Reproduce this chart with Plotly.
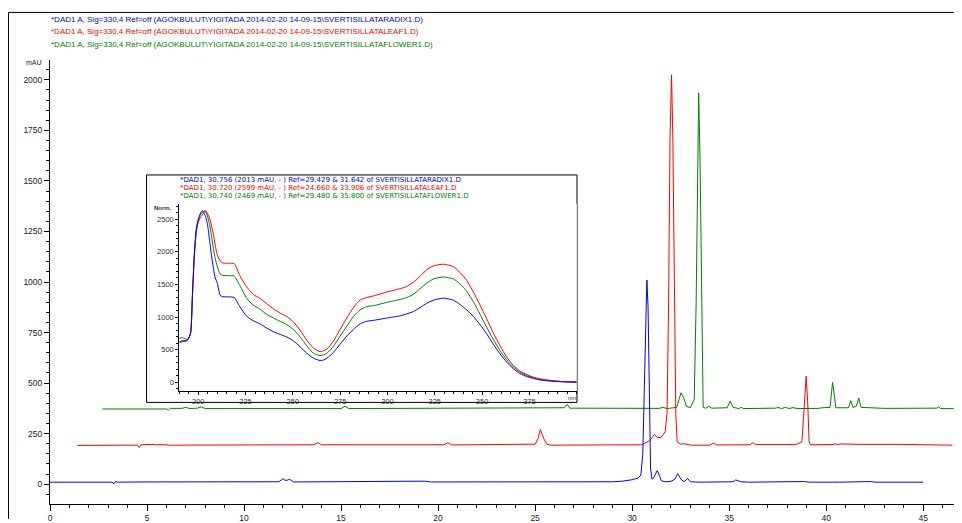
import plotly.graph_objects as go

# ---------------- chromatogram data (time in min, signal in mAU) ----------------
blue_t = [0, 3.2, 3.3, 3.36, 3.5, 4.2, 4.4, 4.6, 11.8, 12.0, 12.15, 12.35, 12.55, 19.0, 19.3, 19.6, 24.0, 24.4, 29.0, 29.5,
          30.0, 30.3, 30.45, 30.55, 30.63, 30.7, 30.76, 30.82, 30.88, 30.95, 31.02, 31.1, 31.2, 31.29, 31.4, 31.5, 31.7,
          32.0, 32.2, 32.35, 32.55, 32.7, 32.85, 33.0, 33.5, 35.2, 35.34, 35.6, 36.0, 37.6, 37.8, 38.9, 39.1, 40.5, 40.7,
          42.3, 42.5, 45.0]
blue_mau = [10, 10, 2, 13, 10, 12, 10, 11, 12, 27, 18, 24, 11, 12, 15, 11, 11, 13, 12, 15,
            22, 30, 45, 150, 550, 900, 1010, 880, 400, 80, 25, 30, 50, 67, 45, 17, 12,
            14, 25, 52, 20, 13, 29, 12, 10, 12, 21, 12, 10, 13, 10, 13, 10, 13, 10,
            13, 10, 10]

red_t = [1.4, 4.5, 4.6, 4.7, 5.3, 5.5, 5.7, 6.2, 13.6, 13.8, 14.0, 20.3, 20.5, 20.7, 25.0, 25.15, 25.27, 25.45, 25.6,
         25.8, 30.5, 30.9, 31.15, 31.3, 31.5, 31.7, 31.8, 31.88, 31.95, 32.03, 32.1, 32.18, 32.25, 32.32, 32.5, 32.7,
         33.0, 34.0, 34.2, 34.35, 36.1, 36.2, 36.35, 38.3, 38.5, 38.75, 38.85, 38.97, 39.05, 39.12, 39.2, 40.4, 40.45,
         40.6, 40.75, 41.8, 43.8, 44.6, 46.5]
red_mau = [192, 193, 181, 195, 197, 194, 196, 193, 195, 205, 195, 195, 205, 194, 198, 225, 270, 225, 198,
           193, 195, 215, 246, 230, 232, 260, 350, 900, 1700, 2025, 1700, 900, 350, 210, 198, 200,
           193, 193, 203, 194, 195, 206, 196, 196, 198, 210, 350, 534, 400, 210, 195, 196, 200,
           196, 199, 197, 197, 195, 193]

green_t = [2.7, 6.0, 6.1, 6.2, 6.8, 7.0, 7.2, 7.6, 7.8, 8.0, 15.0, 15.2, 15.4, 26.5, 26.65, 26.8, 31.4, 31.6, 31.8,
           32.3, 32.42, 32.52, 32.65, 32.8, 33.0, 33.2, 33.3, 33.37, 33.43, 33.5, 33.58, 33.66, 33.8, 33.95, 34.1,
           34.9, 35.05, 35.2, 35.5, 35.6, 35.75, 37.4, 37.5, 37.7, 37.9, 38.1, 38.3, 38.5, 39.6, 39.8, 40.2, 40.27,
           40.33, 40.42, 40.5, 41.15, 41.27, 41.38, 41.55, 41.68, 41.8, 43.0, 45.7, 45.8, 45.9, 47.0]
green_mau = [372, 372, 366, 375, 375, 380, 374, 376, 382, 374, 374, 385, 374, 378, 395, 376, 375, 380, 374,
             380, 420, 452, 430, 385, 378, 420, 900, 1600, 1935, 1600, 800, 380, 376, 385, 376,
             378, 411, 380, 374, 380, 374, 376, 380, 374, 380, 374, 379, 374, 375, 378, 380, 470,
             503, 440, 378, 378, 413, 380, 385, 426, 380, 375, 376, 382, 374, 373]

# ---------------- UV spectra (inset) ----------------
blue_nm = [190, 192, 194, 195, 196, 197, 198, 199, 200, 201, 202, 203, 204, 205, 206, 207, 208, 209, 210, 211.6, 213,
           216, 219, 222, 225.7, 229, 232.7, 236, 239.8, 243.3, 246.8, 250.3, 253.9, 257.4, 260.9, 264.4, 266, 268,
           271.5, 275, 278.5, 282, 285.5, 289, 292.6, 299.6, 306.7, 310.2, 313.7, 317.2, 320.7, 324.3, 329.5, 334.8,
           338.3, 341.9, 345.4, 348.9, 352.4, 355.9, 359.5, 363, 366.5, 370, 373.5, 377.1, 380.6, 387.6, 395, 400]
blue_norm = [620, 640, 635, 680, 760, 1400, 2000, 2350, 2480, 2580, 2630, 2600, 2530, 2400, 2180, 1950, 1750, 1600,
             1530, 1335, 1312, 1310, 1300, 1160, 1010, 945, 895, 835, 775, 735, 695, 635, 545, 445, 370, 335, 340,
             370, 460, 585, 710, 810, 895, 935, 950, 985, 1020, 1050, 1085, 1145, 1210, 1260, 1290, 1260, 1195,
             1110, 1010, 885, 745, 585, 435, 310, 210, 135, 90, 60, 35, 15, 5, 2]

red_nm = [190, 192, 194, 195, 196, 197, 198, 199, 200, 201, 202, 203, 204, 205, 206, 207, 208, 209, 210, 211.6, 213,
          216, 219, 222, 225.7, 229, 232.7, 236, 239.8, 243.3, 246.8, 250.3, 253.9, 257.4, 260.9, 264.4, 268, 271.5,
          275, 278.5, 282, 285.5, 289, 292.6, 299.6, 306.7, 310.2, 313.7, 317.2, 320.7, 324.3, 329.5, 334.8, 338.3,
          341.9, 345.4, 348.9, 352.4, 355.9, 359.5, 363, 366.5, 370, 373.5, 377.1, 380.6, 387.6, 395, 400]
red_norm = [610, 625, 640, 680, 760, 1350, 1950, 2300, 2450, 2520, 2560, 2600, 2630, 2580, 2520, 2400, 2270, 2100,
            1960, 1860, 1830, 1825, 1820, 1635, 1460, 1350, 1285, 1210, 1125, 1060, 1010, 925, 795, 645, 525, 470,
            510, 635, 810, 985, 1145, 1260, 1300, 1325, 1385, 1435, 1470, 1535, 1625, 1725, 1785, 1810, 1775, 1685,
            1560, 1385, 1185, 975, 760, 560, 385, 260, 175, 120, 80, 55, 25, 10, 5]

green_nm = [190, 191.5, 193, 194, 195, 196, 197, 198, 199, 200, 201, 202, 203.3, 204.5, 206, 207, 208, 209, 210, 211.6,
            213, 216, 219, 222, 225.7, 229, 232.7, 236, 239.8, 243.3, 246.8, 250.3, 253.9, 257.4, 260.9, 264.4, 268,
            271.5, 275, 278.5, 282, 285.5, 289, 292.6, 299.6, 306.7, 310.2, 313.7, 317.2, 320.7, 324.3, 329.5, 334.8,
            338.3, 341.9, 345.4, 348.9, 352.4, 355.9, 359.5, 363, 366.5, 370, 373.5, 377.1, 380.6, 387.6, 395, 400]
green_norm = [670, 685, 670, 655, 680, 760, 1380, 1980, 2350, 2500, 2560, 2600, 2630, 2580, 2420, 2250, 2050, 1900,
              1780, 1660, 1640, 1635, 1630, 1485, 1285, 1185, 1120, 1045, 985, 935, 885, 810, 695, 560, 445, 410,
              445, 555, 710, 860, 1010, 1110, 1160, 1175, 1225, 1270, 1300, 1350, 1435, 1520, 1585, 1615, 1585, 1510,
              1395, 1235, 1045, 845, 660, 485, 345, 235, 155, 105, 70, 45, 20, 8, 5]

main_labels = [
    "*DAD1 A, Sig=330,4 Ref=off (AGOKBULUT\\YIGITADA 2014-02-20 14-09-15\\SVERTISILLATARADIX1.D)",
    "*DAD1 A, Sig=330,4 Ref=off (AGOKBULUT\\YIGITADA 2014-02-20 14-09-15\\SVERTISILLATALEAF1.D)",
    "*DAD1 A, Sig=330,4 Ref=off (AGOKBULUT\\YIGITADA 2014-02-20 14-09-15\\SVERTISILLATAFLOWER1.D)",
]
inset_labels = [
    "*DAD1, 30.756 (2013 mAU, - ) Ref=29.429 & 31.642 of SVERTISILLATARADIX1.D",
    "*DAD1, 30.720 (2599 mAU, - ) Ref=24.660 & 33.906 of SVERTISILLATALEAF1.D",
    "*DAD1, 30.740 (2469 mAU, - ) Ref=29.480 & 35.800 of SVERTISILLATAFLOWER1.D",
]
colors = ["#0000FF", "#FF0000", "#008000"]

x_ticks = [0, 5, 10, 15, 20, 25, 30, 35, 40, 45]
y_ticks = [0, 250, 500, 750, 1000, 1250, 1500, 1750, 2000]
inset_x_ticks = [200, 225, 250, 275, 300, 325, 350, 375]
inset_y_ticks = [0, 500, 1000, 1500, 2000, 2500]

SANS = "Liberation Sans, Arial, sans-serif"
WIDE = "DejaVu Sans, Liberation Sans, Arial, sans-serif"

fig = go.Figure()

for t, v, c in [(green_t, green_mau, colors[2]), (red_t, red_mau, colors[1]), (blue_t, blue_mau, colors[0])]:
    fig.add_trace(go.Scatter(x=t, y=v, mode="lines", line=dict(color=c, width=1), xaxis="x", yaxis="y",
                             showlegend=False, hoverinfo="skip"))

for nm, v, c in [(green_nm, green_norm, colors[2]), (red_nm, red_norm, colors[1]), (blue_nm, blue_norm, colors[0])]:
    fig.add_trace(go.Scatter(x=nm, y=v, mode="lines", line=dict(color=c, width=1, shape="spline", smoothing=0.6),
                             xaxis="x2", yaxis="y2", showlegend=False, hoverinfo="skip"))

# the page body has an 8px margin; size the figure so the plot lands where the reference has it
OFF = 8
W, H = 962 - OFF, 523 - OFF
L, R, T, B = 50 - OFF, 0, 60 - OFF, 15
pw, ph = W - L - R, H - T - B


def px(xp):  # reference pixel x -> paper
    return (xp - OFF - L) / pw


def py(yp):  # reference pixel y -> paper
    return (H - B - (yp - OFF)) / ph


shapes = [
    dict(type="line", xref="paper", yref="paper", x0=px(8.5), x1=px(962), y0=py(12), y1=py(12),
         line=dict(color="black", width=1)),
    dict(type="line", xref="paper", yref="paper", x0=px(8.5), x1=px(8.5), y0=py(12), y1=py(523),
         line=dict(color="black", width=1)),
    dict(type="rect", xref="paper", yref="paper", x0=px(146.5), x1=px(577), y0=py(405.5), y1=py(176),
         line=dict(color="black", width=1), fillcolor="white", layer="below"),
]

annotations = []
for i, (txt, c) in enumerate(zip(main_labels, colors)):
    annotations.append(dict(text=txt, xref="paper", yref="paper", x=px(49), y=py([19, 31.5, 44.5][i]),
                            xanchor="left", yanchor="middle", showarrow=False,
                            font=dict(family=SANS, size=8, color=c)))
for i, (txt, c) in enumerate(zip(inset_labels, colors)):
    annotations.append(dict(text=txt, xref="paper", yref="paper", x=px(178), y=py([180.6, 188.9, 197.2][i]),
                            xanchor="left", yanchor="middle", showarrow=False,
                            font=dict(family=WIDE, size=7, color=c)))
annotations.append(dict(text="mAU", xref="paper", yref="paper", x=px(44), y=py(63), xanchor="right",
                        yanchor="middle", showarrow=False, font=dict(family=SANS, size=7, color="#222")))
annotations.append(dict(text="<b>Norm.</b>", xref="paper", yref="paper", x=px(174), y=py(209), xanchor="right",
                        yanchor="middle", showarrow=False, font=dict(family=SANS, size=6, color="#333")))
annotations.append(dict(text="nm", xref="paper", yref="paper", x=px(572), y=py(401), xanchor="center",
                        yanchor="middle", showarrow=False, font=dict(family=SANS, size=6, color="#333")))

fig.update_layout(
    width=W, height=H,
    margin=dict(l=L, r=R, t=T, b=B, pad=0),
    paper_bgcolor="white", plot_bgcolor="white",
    showlegend=False,
    shapes=shapes,
    annotations=annotations,
    xaxis=dict(domain=[0, 1], range=[0, 47], tickvals=x_ticks, ticktext=[str(v) for v in x_ticks],
               showgrid=False, zeroline=False, showline=True, linecolor="black", linewidth=1,
               ticks="outside", ticklen=6, tickcolor="black", tickwidth=1,
               minor=dict(dtick=1, ticks="outside", ticklen=3, tickcolor="black", showgrid=False),
               tickfont=dict(family=SANS, size=8.5, color="#222"), anchor="y"),
    yaxis=dict(domain=[0, 1], range=[-98, 2098], tickvals=y_ticks, ticktext=[str(v) for v in y_ticks],
               showgrid=False, zeroline=False, showline=True, linecolor="black", linewidth=1,
               ticks="outside", ticklen=5, tickcolor="black", tickwidth=1,
               minor=dict(dtick=50, tick0=0, ticks="outside", ticklen=3, tickcolor="black", showgrid=False),
               tickfont=dict(family=SANS, size=8.5, color="#222"), anchor="x"),
    xaxis2=dict(domain=[px(179.3), px(576.7)], range=[190, 400], tickvals=inset_x_ticks,
                ticktext=[str(v) for v in inset_x_ticks],
                showgrid=False, zeroline=False, showline=True, linecolor="black", linewidth=1,
                ticks="outside", ticklen=3, tickcolor="black",
                minor=dict(dtick=5, tick0=0, ticks="outside", ticklen=2, tickcolor="black", showgrid=False),
                tickfont=dict(family=SANS, size=7.5, color="#333"), anchor="y2"),
    yaxis2=dict(domain=[py(393.8), py(205)], range=[-130, 2738], tickvals=inset_y_ticks,
                ticktext=[str(v) for v in inset_y_ticks],
                showgrid=False, zeroline=False, showline=True, linecolor="black", linewidth=1,
                ticks="outside", ticklen=3, tickcolor="black",
                minor=dict(dtick=100, tick0=0, ticks="outside", ticklen=2, tickcolor="black", showgrid=False),
                tickfont=dict(family=SANS, size=7.5, color="#333"), anchor="x2"),
)

fig.write_html("out.html")
